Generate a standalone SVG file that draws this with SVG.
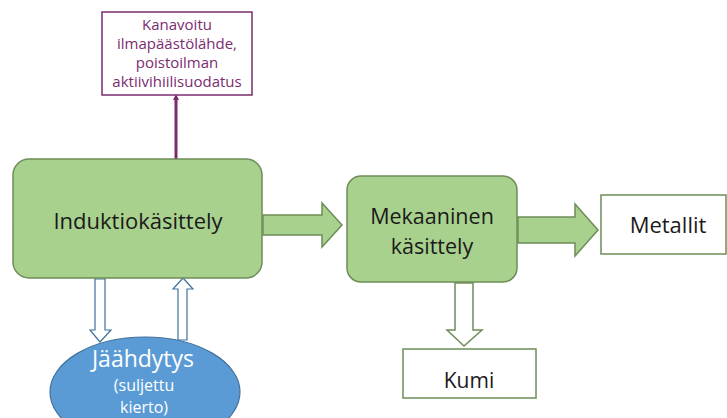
<svg xmlns="http://www.w3.org/2000/svg" width="727" height="418" viewBox="0 0 727 418">
<defs>
<style>
.green{fill:#a9d18e;stroke:#6e8d58;stroke-width:1.5}
.white{fill:#ffffff;stroke:#6e8d58;stroke-width:1.5}
.txt{font-family:"Open Sans","Liberation Sans",sans-serif;fill:#1a1a1a;text-anchor:middle}
.ptxt{font-family:"Open Sans","Liberation Sans",sans-serif;fill:#7b2c6f;text-anchor:middle;font-size:15px}
.wtxt{font-family:"Open Sans","Liberation Sans",sans-serif;fill:#ffffff;text-anchor:middle}
.blue{fill:#ffffff;stroke:#41719c;stroke-width:1.2}
</style>
<marker id="pa" markerWidth="6" markerHeight="6" refX="3" refY="3" orient="auto" markerUnits="userSpaceOnUse">
<path d="M0,0 L6,3 L0,6 Z" fill="#7b2c6f"/>
</marker>
</defs>
<rect width="727" height="418" fill="#ffffff"/>
<g id="connectors">
<line x1="176" y1="159" x2="176" y2="97" stroke="#7b2c6f" stroke-width="3" marker-end="url(#pa)"/>
<path class="green" d="M263,215 L322,215 L322,203 L342,225 L322,247 L322,235 L263,235 Z"/>
<path class="green" d="M518,217 L575,217 L575,204 L598,230 L575,256 L575,243 L518,243 Z"/>
<path class="white" d="M455,283 L473,283 L473,330 L482,330 L464,346 L447,330 L455,330 Z"/>
<path class="blue" d="M95,279 L105,279 L105,330 L111,330 L100,342 L90,330 L95,330 Z"/>
<path class="blue" d="M178,340 L187,340 L187,289 L193,289 L183,278 L173,289 L178,289 Z"/>
</g>
<g id="node-kanavoitu">
<rect x="102" y="12" width="150" height="83" fill="#ffffff" stroke="#7b2c6f" stroke-width="1.5"/>
<text class="ptxt" x="177" y="30">Kanavoitu</text>
<text class="ptxt" x="177" y="49">ilmapäästölähde,</text>
<text class="ptxt" x="177" y="68">poistoilman</text>
<text class="ptxt" x="177" y="87">aktiivihiilisuodatus</text>
</g>
<g id="node-induktio">
<rect class="green" x="13" y="159" width="249" height="119" rx="16"/>
<text class="txt" x="138" y="229" font-size="22">Induktiokäsittely</text>
</g>
<g id="node-mekaaninen">
<rect class="green" x="347" y="176" width="170" height="106" rx="14"/>
<text class="txt" x="432" y="224" font-size="21.5">Mekaaninen</text>
<text class="txt" x="432" y="254" font-size="21.5">käsittely</text>
</g>
<g id="node-metallit">
<rect class="white" x="601" y="195" width="125" height="59"/>
<text class="txt" x="668" y="233" font-size="22">Metallit</text>
</g>
<g id="node-kumi">
<rect class="white" x="403" y="349" width="133" height="49"/>
<text class="txt" x="469" y="388" font-size="21">Kumi</text>
</g>
<g id="node-jaahdytys">
<ellipse cx="145" cy="392" rx="95" ry="55" fill="#5b9bd5" stroke="#41719c" stroke-width="1.2"/>
<text class="wtxt" x="143" y="367" font-size="23">Jäähdytys</text>
<text class="wtxt" x="144" y="391" font-size="16">(suljettu</text>
<text class="wtxt" x="144" y="413" font-size="16">kierto)</text>
</g>
</svg>
